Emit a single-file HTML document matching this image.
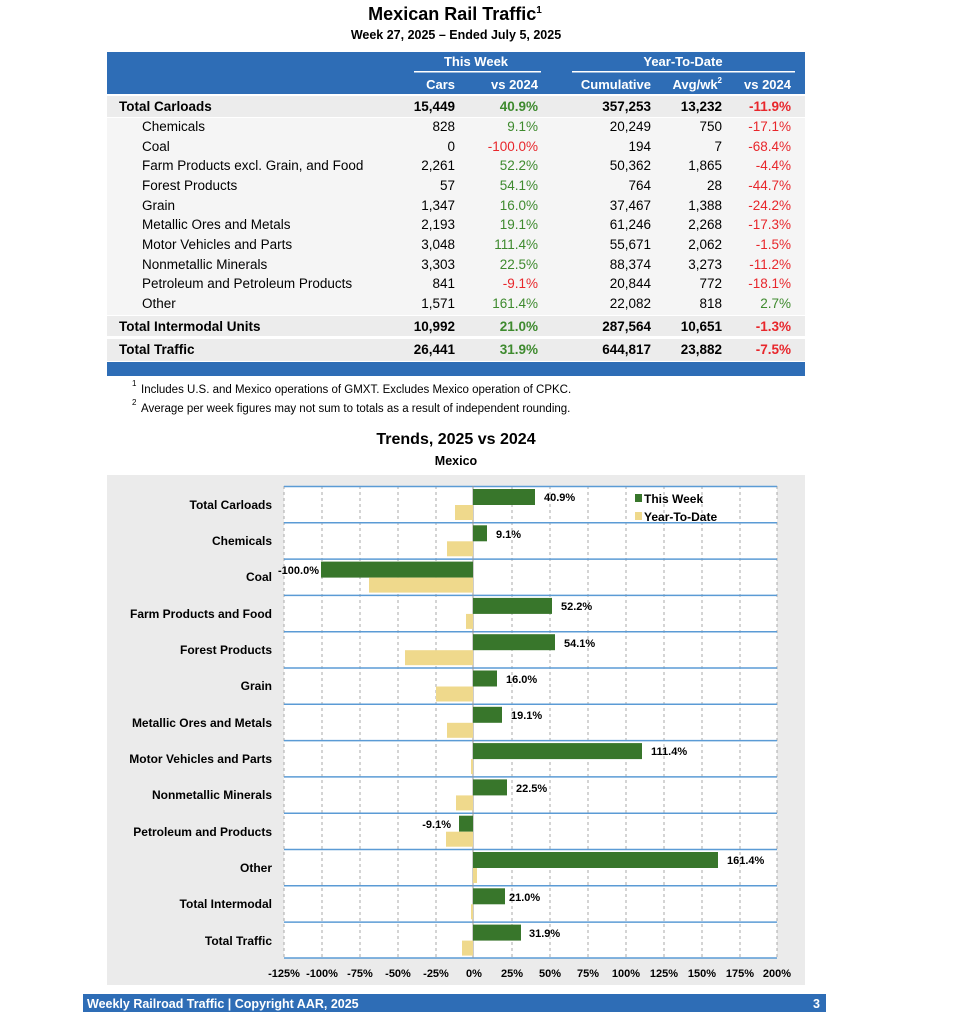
<!DOCTYPE html>
<html><head><meta charset="utf-8"><style>
body{margin:0;background:#fff;}
svg{display:block;font-family:"Liberation Sans",Arial,sans-serif;}
</style></head><body>
<svg width="958" height="1024" viewBox="0 0 958 1024" xmlns="http://www.w3.org/2000/svg">
<text x="455" y="20" font-size="18" font-weight="bold" text-anchor="middle">Mexican Rail Traffic<tspan font-size="10" dy="-7">1</tspan></text>
<text x="456" y="39" font-size="12.5" font-weight="bold" text-anchor="middle">Week 27, 2025 – Ended July 5, 2025</text>
<rect x="107" y="52" width="698" height="42" fill="#2e6db6"/>
<g fill="#fff" font-size="13" font-weight="bold">
<text x="476" y="66" text-anchor="middle">This Week</text>
<text x="683" y="66" text-anchor="middle">Year-To-Date</text>
<text x="455" y="89" text-anchor="end">Cars</text>
<text x="538" y="89" text-anchor="end">vs 2024</text>
<text x="651" y="89" text-anchor="end">Cumulative</text>
<text x="722" y="89" text-anchor="end">Avg/wk<tspan font-size="8" dy="-6">2</tspan></text>
<text x="791" y="89" text-anchor="end">vs 2024</text>
</g>
<rect x="414" y="71" width="127" height="1.5" fill="#fff"/>
<rect x="572" y="71" width="223" height="1.5" fill="#fff"/>
<g font-size="13.5">
<rect x="107" y="96" width="698" height="21" fill="#ececec"/>
<rect x="107" y="118" width="698" height="197" fill="#f5f5f5"/>
<rect x="107" y="316" width="698" height="20" fill="#ececec"/>
<rect x="107" y="339" width="698" height="22" fill="#ececec"/>
<g font-weight="bold">
<text x="119" y="111">Total Carloads</text><text x="455" y="111" text-anchor="end">15,449</text><text x="538" y="111" text-anchor="end" fill="#3e8a2e">40.9%</text><text x="651" y="111" text-anchor="end">357,253</text><text x="722" y="111" text-anchor="end">13,232</text><text x="791" y="111" text-anchor="end" fill="#e8262b">-11.9%</text>
<text x="119" y="331">Total Intermodal Units</text><text x="455" y="331" text-anchor="end">10,992</text><text x="538" y="331" text-anchor="end" fill="#3e8a2e">21.0%</text><text x="651" y="331" text-anchor="end">287,564</text><text x="722" y="331" text-anchor="end">10,651</text><text x="791" y="331" text-anchor="end" fill="#e8262b">-1.3%</text>
<text x="119" y="354">Total Traffic</text><text x="455" y="354" text-anchor="end">26,441</text><text x="538" y="354" text-anchor="end" fill="#3e8a2e">31.9%</text><text x="651" y="354" text-anchor="end">644,817</text><text x="722" y="354" text-anchor="end">23,882</text><text x="791" y="354" text-anchor="end" fill="#e8262b">-7.5%</text>
</g>
<g>
<text x="142" y="131">Chemicals</text><text x="455" y="131" text-anchor="end">828</text><text x="538" y="131" text-anchor="end" fill="#3e8a2e">9.1%</text><text x="651" y="131" text-anchor="end">20,249</text><text x="722" y="131" text-anchor="end">750</text><text x="791" y="131" text-anchor="end" fill="#e8262b">-17.1%</text>
<text x="142" y="151">Coal</text><text x="455" y="151" text-anchor="end">0</text><text x="538" y="151" text-anchor="end" fill="#e8262b">-100.0%</text><text x="651" y="151" text-anchor="end">194</text><text x="722" y="151" text-anchor="end">7</text><text x="791" y="151" text-anchor="end" fill="#e8262b">-68.4%</text>
<text x="142" y="170">Farm Products excl. Grain, and Food</text><text x="455" y="170" text-anchor="end">2,261</text><text x="538" y="170" text-anchor="end" fill="#3e8a2e">52.2%</text><text x="651" y="170" text-anchor="end">50,362</text><text x="722" y="170" text-anchor="end">1,865</text><text x="791" y="170" text-anchor="end" fill="#e8262b">-4.4%</text>
<text x="142" y="190">Forest Products</text><text x="455" y="190" text-anchor="end">57</text><text x="538" y="190" text-anchor="end" fill="#3e8a2e">54.1%</text><text x="651" y="190" text-anchor="end">764</text><text x="722" y="190" text-anchor="end">28</text><text x="791" y="190" text-anchor="end" fill="#e8262b">-44.7%</text>
<text x="142" y="210">Grain</text><text x="455" y="210" text-anchor="end">1,347</text><text x="538" y="210" text-anchor="end" fill="#3e8a2e">16.0%</text><text x="651" y="210" text-anchor="end">37,467</text><text x="722" y="210" text-anchor="end">1,388</text><text x="791" y="210" text-anchor="end" fill="#e8262b">-24.2%</text>
<text x="142" y="229">Metallic Ores and Metals</text><text x="455" y="229" text-anchor="end">2,193</text><text x="538" y="229" text-anchor="end" fill="#3e8a2e">19.1%</text><text x="651" y="229" text-anchor="end">61,246</text><text x="722" y="229" text-anchor="end">2,268</text><text x="791" y="229" text-anchor="end" fill="#e8262b">-17.3%</text>
<text x="142" y="249">Motor Vehicles and Parts</text><text x="455" y="249" text-anchor="end">3,048</text><text x="538" y="249" text-anchor="end" fill="#3e8a2e">111.4%</text><text x="651" y="249" text-anchor="end">55,671</text><text x="722" y="249" text-anchor="end">2,062</text><text x="791" y="249" text-anchor="end" fill="#e8262b">-1.5%</text>
<text x="142" y="269">Nonmetallic Minerals</text><text x="455" y="269" text-anchor="end">3,303</text><text x="538" y="269" text-anchor="end" fill="#3e8a2e">22.5%</text><text x="651" y="269" text-anchor="end">88,374</text><text x="722" y="269" text-anchor="end">3,273</text><text x="791" y="269" text-anchor="end" fill="#e8262b">-11.2%</text>
<text x="142" y="288">Petroleum and Petroleum Products</text><text x="455" y="288" text-anchor="end">841</text><text x="538" y="288" text-anchor="end" fill="#e8262b">-9.1%</text><text x="651" y="288" text-anchor="end">20,844</text><text x="722" y="288" text-anchor="end">772</text><text x="791" y="288" text-anchor="end" fill="#e8262b">-18.1%</text>
<text x="142" y="308">Other</text><text x="455" y="308" text-anchor="end">1,571</text><text x="538" y="308" text-anchor="end" fill="#3e8a2e">161.4%</text><text x="651" y="308" text-anchor="end">22,082</text><text x="722" y="308" text-anchor="end">818</text><text x="791" y="308" text-anchor="end" fill="#3e8a2e">2.7%</text>
</g>
</g>
<rect x="107" y="362" width="698" height="14" fill="#2e6db6"/>
<g font-size="11.5">
<text x="132" y="386" font-size="8">1</text><text x="141" y="393">Includes U.S. and Mexico operations of GMXT. Excludes Mexico operation of CPKC.</text>
<text x="132" y="405" font-size="8">2</text><text x="141" y="412">Average per week figures may not sum to totals as a result of independent rounding.</text>
</g>
<text x="456" y="444" font-size="16" font-weight="bold" text-anchor="middle">Trends, 2025 vs 2024</text>
<text x="456" y="465" font-size="12.5" font-weight="bold" text-anchor="middle">Mexico</text>
<rect x="107" y="475" width="698" height="510" fill="#ebebeb"/>
<rect x="284" y="486" width="493" height="472" fill="#fff"/>
<g stroke="#aaa" stroke-dasharray="3,3" stroke-width="1">
<line x1="284" y1="486" x2="284" y2="958"/><line x1="322" y1="486" x2="322" y2="958"/><line x1="360" y1="486" x2="360" y2="958"/><line x1="398" y1="486" x2="398" y2="958"/><line x1="436" y1="486" x2="436" y2="958"/>
<line x1="512" y1="486" x2="512" y2="958"/><line x1="550" y1="486" x2="550" y2="958"/><line x1="588" y1="486" x2="588" y2="958"/><line x1="626" y1="486" x2="626" y2="958"/><line x1="664" y1="486" x2="664" y2="958"/><line x1="702" y1="486" x2="702" y2="958"/><line x1="740" y1="486" x2="740" y2="958"/><line x1="777" y1="486" x2="777" y2="958"/>
</g>
<g stroke="#5b9bd5" stroke-width="1.5">
<line x1="284" y1="486.5" x2="777" y2="486.5"/><line x1="284" y1="522.8" x2="777" y2="522.8"/><line x1="284" y1="559.1" x2="777" y2="559.1"/><line x1="284" y1="595.4" x2="777" y2="595.4"/><line x1="284" y1="631.7" x2="777" y2="631.7"/><line x1="284" y1="668" x2="777" y2="668"/><line x1="284" y1="704.3" x2="777" y2="704.3"/><line x1="284" y1="740.6" x2="777" y2="740.6"/><line x1="284" y1="776.9" x2="777" y2="776.9"/><line x1="284" y1="813.2" x2="777" y2="813.2"/><line x1="284" y1="849.5" x2="777" y2="849.5"/><line x1="284" y1="885.8" x2="777" y2="885.8"/><line x1="284" y1="922.1" x2="777" y2="922.1"/><line x1="284" y1="958" x2="777" y2="958"/>
</g>
<line x1="473" y1="486" x2="473" y2="958" stroke="#999"/>
<g fill="#38762b">
<rect x="473" y="489" width="62" height="16"/>
<rect x="473" y="525.3" width="14" height="16"/>
<rect x="321" y="561.6" width="152" height="16"/>
<rect x="473" y="597.9" width="79" height="16"/>
<rect x="473" y="634.2" width="82" height="16"/>
<rect x="473" y="670.5" width="24" height="16"/>
<rect x="473" y="706.8" width="29" height="16"/>
<rect x="473" y="743.1" width="169" height="16"/>
<rect x="473" y="779.4" width="34" height="16"/>
<rect x="459" y="815.7" width="14" height="16"/>
<rect x="473" y="852" width="245" height="16"/>
<rect x="473" y="888.3" width="32" height="16"/>
<rect x="473" y="924.6" width="48" height="16"/>
</g>
<g fill="#efd98c">
<rect x="455" y="505" width="18" height="15"/>
<rect x="447" y="541.3" width="26" height="15"/>
<rect x="369" y="577.6" width="104" height="15"/>
<rect x="466" y="613.9" width="7" height="15"/>
<rect x="405" y="650.2" width="68" height="15"/>
<rect x="436" y="686.5" width="37" height="15"/>
<rect x="447" y="722.8" width="26" height="15"/>
<rect x="471" y="759.1" width="2" height="15"/>
<rect x="456" y="795.4" width="17" height="15"/>
<rect x="446" y="831.7" width="27" height="15"/>
<rect x="473" y="868" width="4" height="15"/>
<rect x="471" y="904.3" width="2" height="15"/>
<rect x="462" y="940.6" width="11" height="15"/>
</g>
<g font-size="11" font-weight="bold">
<text x="544" y="501">40.9%</text>
<text x="496" y="538">9.1%</text>
<text x="319" y="574" text-anchor="end">-100.0%</text>
<text x="561" y="610">52.2%</text>
<text x="564" y="647">54.1%</text>
<text x="506" y="683">16.0%</text>
<text x="511" y="719">19.1%</text>
<text x="651" y="755">111.4%</text>
<text x="516" y="792">22.5%</text>
<text x="451" y="828" text-anchor="end">-9.1%</text>
<text x="727" y="864">161.4%</text>
<text x="509" y="901">21.0%</text>
<text x="529" y="937">31.9%</text>
</g>
<g font-size="12" font-weight="bold" text-anchor="end">
<text x="272" y="509">Total Carloads</text>
<text x="272" y="545">Chemicals</text>
<text x="272" y="581">Coal</text>
<text x="272" y="618">Farm Products and Food</text>
<text x="272" y="654">Forest Products</text>
<text x="272" y="690">Grain</text>
<text x="272" y="727">Metallic Ores and Metals</text>
<text x="272" y="763">Motor Vehicles and Parts</text>
<text x="272" y="799">Nonmetallic Minerals</text>
<text x="272" y="836">Petroleum and Products</text>
<text x="272" y="872">Other</text>
<text x="272" y="908">Total Intermodal</text>
<text x="272" y="945">Total Traffic</text>
</g>
<rect x="635" y="494" width="7" height="8" fill="#38762b"/>
<text x="644" y="503" font-size="12" font-weight="bold">This Week</text>
<rect x="635" y="512" width="7" height="8" fill="#efd98c"/>
<text x="644" y="521" font-size="12" font-weight="bold">Year-To-Date</text>
<g font-size="11" font-weight="bold" text-anchor="middle">
<text x="284" y="977">-125%</text><text x="322" y="977">-100%</text><text x="360" y="977">-75%</text><text x="398" y="977">-50%</text><text x="436" y="977">-25%</text><text x="474" y="977">0%</text><text x="512" y="977">25%</text><text x="550" y="977">50%</text><text x="588" y="977">75%</text><text x="626" y="977">100%</text><text x="664" y="977">125%</text><text x="702" y="977">150%</text><text x="740" y="977">175%</text><text x="777" y="977">200%</text>
</g>
<rect x="83" y="994" width="743" height="18" fill="#2e6db6"/>
<text x="87" y="1008" font-size="12.5" font-weight="bold" fill="#fff">Weekly Railroad Traffic | Copyright AAR, 2025</text>
<text x="820" y="1008" font-size="12.5" font-weight="bold" fill="#fff" text-anchor="end">3</text>
</svg>
</body></html>
